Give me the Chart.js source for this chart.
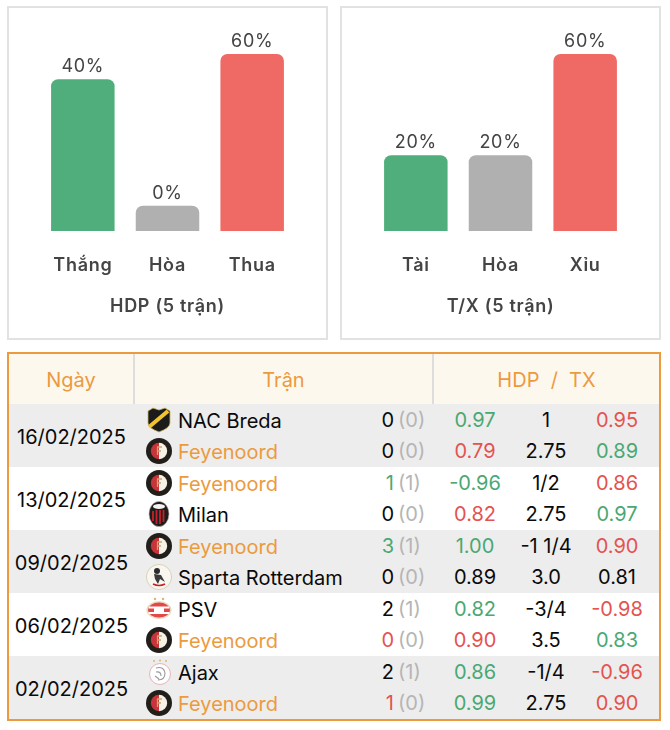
<!DOCTYPE html>
<html lang="vi">
<head>
<meta charset="utf-8">
<title>Feyenoord</title>
<script src="https://cdn.jsdelivr.net/npm/chart.js@4"></script>
<style>
  html, body { margin: 0; padding: 0; background: #fff; }
  body { width: 670px; height: 730px; position: relative; overflow: hidden; font-family: Inter, "Noto Sans", sans-serif; }
  .panel { position: absolute; top: 6px; width: 321px; height: 334px; box-sizing: border-box; border: 2px solid #e2e2e2; }
  .panel canvas { display: block; }
  #p1 { left: 7px; }
  #p2 { left: 340px; }
  #tbl { position: absolute; left: 7px; top: 352px; width: 654px; height: 369px; box-sizing: border-box; border: 2px solid #ec9a3e; overflow: hidden; }
  table { border-collapse: collapse; table-layout: fixed; width: 650px; font-size: 20px; color: #0a0a0a; }
  th { height: 50px; padding: 2px 0 0; box-sizing: border-box; background: #fdf8ee; color: #ec9a3e; font-weight: 400; font-size: 20px; border-left: 2px solid #dddddd; }
  th:first-child { border-left: 0; }
  td { padding: 0; height: 31.5px; line-height: 24px; white-space: nowrap; }
  tbody tr.odd td { background: #ededed; }
  .date { text-align: center; padding-top: 2px; box-sizing: border-box; }
  .team { padding-left: 12px; }
  .team svg { width: 26px; height: 26px; vertical-align: middle; margin: -4px 6px -4px 0; position: relative; top: -1px; }
  .team span { vertical-align: middle; }
  .score { text-align: right; }
  .ht { color: #b5b5b5; padding-left: 4px; }
  .num { text-align: center; }
  .org { color: #ec9a3e; }
  .grn { color: #4aa873; }
  .red { color: #e4534f; }
</style>
</head>
<body>
<svg width="0" height="0" style="position:absolute">
  <symbol id="nac" viewBox="0 0 26 26">
    <path d="M2 4 L7 1 L13 3 L19 1 L24 4 V16 Q24 21 13 25 Q2 21 2 16 Z" fill="#1b1b1b" stroke="#c9b45a" stroke-width=".8"/>
    <path d="M3 20 L22 4" stroke="#f2c230" stroke-width="4"/>
  </symbol>
  <symbol id="fey" viewBox="0 0 26 26">
    <circle cx="13" cy="13" r="13" fill="#221f1a"/>
    <path d="M13 4.8 A8.2 8.2 0 0 0 13 21.2 Z" fill="#c8343a"/>
    <path d="M13 4.8 A8.2 8.2 0 0 1 13 21.2 Z" fill="#f6f2e8"/>
    <path d="M11 9 H16 M11.5 9 V17 M11.5 13 H15" stroke="#c8a96a" stroke-width="1.3" fill="none"/>
  </symbol>
  <symbol id="mil" viewBox="0 0 26 26">
    <ellipse cx="13" cy="13" rx="10" ry="12.6" fill="#1d1d1d" stroke="#caa" stroke-width=".6"/>
    <ellipse cx="13" cy="5.5" rx="6" ry="2.6" fill="#f2f2f2"/>
    <path d="M7 10 V20 M10.5 9 V23 M14 9 V23 M17.5 9 V21" stroke="#c8202c" stroke-width="1.8"/>
  </symbol>
  <symbol id="spa" viewBox="0 0 26 26">
    <circle cx="13" cy="13" r="12.6" fill="#f8f6ef" stroke="#d9d2b8" stroke-width="1"/>
    <circle cx="11" cy="7" r="3" fill="#2c2c2c"/>
    <path d="M8 10 L15 11 L19 18 L14 15 L12 20 L9 15 Z" fill="#3a3a3a"/>
    <path d="M7 20 Q13 23 19 20" stroke="#c8202c" stroke-width="1.6" fill="none"/>
  </symbol>
  <symbol id="psv" viewBox="0 0 26 26">
    <ellipse cx="13" cy="14" rx="12.6" ry="9" fill="#e8dcc0"/>
    <ellipse cx="13" cy="14" rx="11" ry="7.6" fill="#e4464a"/>
    <path d="M3 11.5 H23 M2.5 17 H23.5" stroke="#fff" stroke-width="1.8"/>
    <rect x="8" y="11" width="10" height="6" fill="#fff"/>
    <circle cx="9" cy="3" r="1.2" fill="#d9b86a"/><circle cx="17" cy="3" r="1.2" fill="#d9b86a"/>
  </symbol>
  <symbol id="aja" viewBox="0 0 26 26">
    <circle cx="14" cy="15" r="10.5" fill="#fff" stroke="#e6b4b8" stroke-width="1"/>
    <path d="M10 9 Q18 7 19 14 Q19 21 12 21 M10 13 Q15 12 15 17 M9 17 L13 20" stroke="#9a9a9a" stroke-width="1.1" fill="none"/>
    <circle cx="8" cy="2" r="1" fill="#d9b86a"/><circle cx="14" cy="1.6" r="1" fill="#d9b86a"/><circle cx="20" cy="2" r="1" fill="#d9b86a"/>
  </symbol>
</svg>

<div class="panel" id="p1"><canvas id="hdpChart" width="317" height="330"></canvas></div>
<div class="panel" id="p2"><canvas id="txChart" width="317" height="330"></canvas></div>
<div id="tbl"><table id="matches"></table></div>

<script>
// bar charts: printed label and bar height are kept apart, the reference's 40% bar is drawn taller than 40
const hdpCategories = ['Thắng', 'Hòa', 'Thua'];
const hdpLabels = ['40%', '0%', '60%'];
const hdpBars = [50, 0, 60];
const txCategories = ['Tài', 'Hòa', 'Xỉu'];
const txLabels = ['20%', '20%', '60%'];
const txBars = [20, 20, 60];
const barColors = ['#4fae7b', '#b0b0b0', '#ef6a64'];

// table
const dates = ['16/02/2025', '13/02/2025', '09/02/2025', '06/02/2025', '02/02/2025'];
const logos = ['nac', 'fey', 'fey', 'mil', 'fey', 'spa', 'psv', 'fey', 'aja', 'fey'];
const teams = ['NAC Breda', 'Feyenoord', 'Feyenoord', 'Milan', 'Feyenoord', 'Sparta Rotterdam', 'PSV', 'Feyenoord', 'Ajax', 'Feyenoord'];
const goals = [0, 0, 1, 0, 3, 0, 2, 0, 2, 1];
const halfGoals = [0, 0, 1, 0, 1, 0, 1, 0, 1, 0];
const goalTone = ['', '', 'grn', '', 'grn', '', '', 'red', '', 'red'];
const oddsA = ['0.97', '0.79', '-0.96', '0.82', '1.00', '0.89', '0.82', '0.90', '0.86', '0.99'];
const oddsATone = ['grn', 'red', 'grn', 'red', 'grn', '', 'grn', 'red', 'grn', 'grn'];
const lines = ['1', '2.75', '1/2', '2.75', '-1 1/4', '3.0', '-3/4', '3.5', '-1/4', '2.75'];
const oddsB = ['0.95', '0.89', '0.86', '0.97', '0.90', '0.81', '-0.98', '0.83', '-0.96', '0.90'];
const oddsBTone = ['red', 'grn', 'red', 'grn', 'red', '', 'red', 'grn', 'red', 'red'];

const FONT = 'Inter, "Noto Sans", sans-serif';

const barLabelPlugin = {
    id: 'barLabels',
    beforeDraw(chart) {
        chart.ctx.letterSpacing = '0.7px';
    },
    afterDatasetsDraw(chart) {
        const ctx = chart.ctx;
        const texts = chart.options.plugins.barLabels.texts;
        ctx.save();
        ctx.font = '400 18px ' + FONT;
        ctx.fillStyle = '#444444';
        ctx.textAlign = 'center';
        ctx.textBaseline = 'middle';
        chart.getDatasetMeta(0).data.forEach(function (bar, i) {
            ctx.fillText(texts[i], bar.x, bar.y - 12.5);
        });
        ctx.restore();
    }
};

function makeChart(id, categories, bars, texts, title) {
    return new Chart(document.getElementById(id), {
        type: 'bar',
        data: {
            labels: categories,
            datasets: [{
                data: bars,
                base: -10,
                backgroundColor: barColors,
                borderRadius: { topLeft: 7, topRight: 7 },
                borderSkipped: false,
                barPercentage: 0.75,
                categoryPercentage: 1
            }]
        },
        options: {
            responsive: false,
            animation: false,
            layout: { padding: { left: 31.5, right: 31.5, top: 46, bottom: 0 } },
            plugins: {
                legend: { display: false },
                tooltip: { enabled: false },
                barLabels: { texts: texts }
            },
            scales: {
                y: { display: false, min: -10, max: 60 },
                x: {
                    grid: { display: false },
                    border: { display: false },
                    ticks: { color: '#444444', padding: 16, font: { family: FONT, size: 18, weight: '600' } },
                    title: {
                        display: true,
                        text: title,
                        color: '#444444',
                        font: { family: FONT, size: 18, weight: '600' },
                        padding: { top: 0, bottom: 21 }
                    },
                    afterFit(scale) { scale.height = 107; }
                }
            }
        },
        plugins: [barLabelPlugin]
    });
}

makeChart('hdpChart', hdpCategories, hdpBars, hdpLabels, 'HDP (5 trận)');
makeChart('txChart', txCategories, txBars, txLabels, 'T/X (5 trận)');

function cell(cls, text) {
    return '<td class="' + cls + '">' + text + '</td>';
}

let html = '<colgroup><col style="width:125px"><col style="width:240px"><col style="width:20px"><col style="width:39px">' +
    '<col style="width:84px"><col style="width:58px"><col style="width:84px"></colgroup>' +
    '<thead><tr><th>Ngày</th><th colspan="3">Trận</th><th colspan="3">HDP&nbsp; /&nbsp; TX</th></tr></thead><tbody>';
teams.forEach(function (team, i) {
    const pair = Math.floor(i / 2);
    html += '<tr class="' + (pair % 2 === 0 ? 'odd' : 'even') + '">';
    if (i % 2 === 0) html += '<td class="date" rowspan="2">' + dates[pair] + '</td>';
    html += '<td class="team"><svg><use href="#' + logos[i] + '"/></svg><span class="' + (team === 'Feyenoord' ? 'org' : '') + '">' + team + '</span></td>';
    html += cell('score ' + goalTone[i], goals[i]);
    html += cell('ht', '(' + halfGoals[i] + ')');
    html += cell('num ' + oddsATone[i], oddsA[i]);
    html += cell('num', lines[i]);
    html += cell('num ' + oddsBTone[i], oddsB[i]);
    html += '</tr>';
});
document.getElementById('matches').innerHTML = html + '</tbody>';
</script>
</body>
</html>
